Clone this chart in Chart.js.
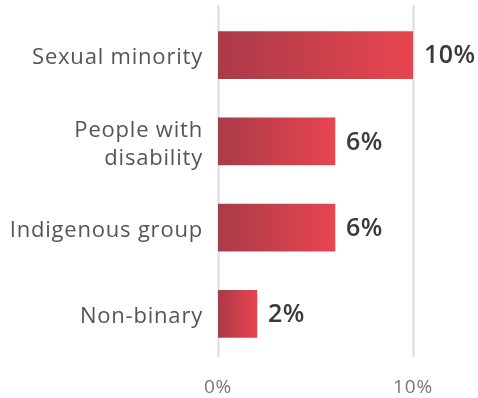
<!DOCTYPE html>
<html>
<head>
<meta charset="utf-8">
<script src="https://cdn.jsdelivr.net/npm/chart.js@4.4.1/dist/chart.umd.min.js"></script>
<style>
  html, body { margin: 0; padding: 0; background: #fff; }
  #wrap { width: 478px; height: 398px; position: relative; }
</style>
</head>
<body>
<div id="wrap"><canvas id="chart"></canvas></div>
<script>
const groups = ['Sexual minority', ['People with', 'disability'], 'Indigenous group', 'Non-binary'];
const shares = [10, 6, 6, 2];
const xTicks = [0, 10];

const FONT = '"Open Sans", sans-serif';

// gradient runs from the base of each bar to its tip
function barGradient(ctx) {
  const chart = ctx.chart;
  const x = chart.scales.x;
  if (!chart.chartArea || ctx.dataIndex === undefined) return '#c43f4c';
  const x0 = x.getPixelForValue(0);
  const x1 = x.getPixelForValue(shares[ctx.dataIndex]);
  const g = chart.ctx.createLinearGradient(x0, 0, x1, 0);
  g.addColorStop(0, '#aa3a48');
  g.addColorStop(1, '#e8454f');
  return g;
}

// wider letter spacing for axis text, and category labels nudged down
// so they sit level with the middle of their bars
const axisText = {
  id: 'axisText',
  beforeDraw(chart) {
    chart.ctx.letterSpacing = '0.8px';
    const items = chart.scales.y.getLabelItems();
    if (!items._shifted) {
      items.forEach(it => { it.options.translation[1] += 3; });
      items._shifted = true;
    }
  }
};

// vertical guide lines at the x ticks, running a bit past the plot area
const guideLines = {
  id: 'guideLines',
  beforeDatasetsDraw(chart) {
    const { ctx, scales: { x } } = chart;
    ctx.save();
    ctx.strokeStyle = '#dcdcdc';
    ctx.lineWidth = 2;
    xTicks.forEach(v => {
      const px = Math.round(x.getPixelForValue(v)) + 0.5;
      ctx.beginPath();
      ctx.moveTo(px, 5);
      ctx.lineTo(px, 357);
      ctx.stroke();
    });
    ctx.restore();
  }
};

// percentage labels at the end of each bar
const valueLabels = {
  id: 'valueLabels',
  afterDatasetsDraw(chart) {
    const { ctx } = chart;
    const bars = chart.getDatasetMeta(0).data;
    ctx.save();
    ctx.letterSpacing = '0.5px';
    ctx.font = `600 25px ${FONT}`;
    ctx.fillStyle = '#3a3a3a';
    ctx.textAlign = 'left';
    ctx.textBaseline = 'middle';
    bars.forEach((bar, i) => {
      ctx.fillText(shares[i] + '%', bar.x + 11, bar.y + 1);
    });
    ctx.restore();
  }
};

function noPadding(scale) {
  scale.paddingTop = 0;
  scale.paddingBottom = 0;
  scale.paddingLeft = 0;
  scale.paddingRight = 0;
}

new Chart(document.getElementById('chart'), {
  type: 'bar',
  data: {
    labels: groups,
    datasets: [{
      data: shares,
      backgroundColor: barGradient,
      borderWidth: 0,
      barThickness: 47,
    }],
  },
  options: {
    indexAxis: 'y',
    responsive: true,
    maintainAspectRatio: false,
    animation: false,
    layout: { padding: { top: 12, right: 65, left: 0, bottom: 0 } },
    plugins: {
      legend: { display: false },
      tooltip: { enabled: false },
    },
    scales: {
      x: {
        min: 0,
        max: 10,
        afterBuildTicks: scale => { scale.ticks = xTicks.map(v => ({ value: v })); },
        afterFit: scale => { scale.height = 41; noPadding(scale); },
        grid: { display: false },
        border: { display: false },
        ticks: {
          padding: 11,
          color: '#777',
          font: { family: FONT, size: 19 },
          callback: v => v + '%',
        },
      },
      y: {
        afterFit: scale => { scale.width = 218; noPadding(scale); },
        grid: { display: false, drawTicks: false },
        border: { display: false },
        ticks: {
          padding: 15,
          color: '#555',
          font: { family: FONT, size: 22, lineHeight: 1.27 },
        },
      },
    },
  },
  plugins: [axisText, guideLines, valueLabels],
});
</script>
</body>
</html>
